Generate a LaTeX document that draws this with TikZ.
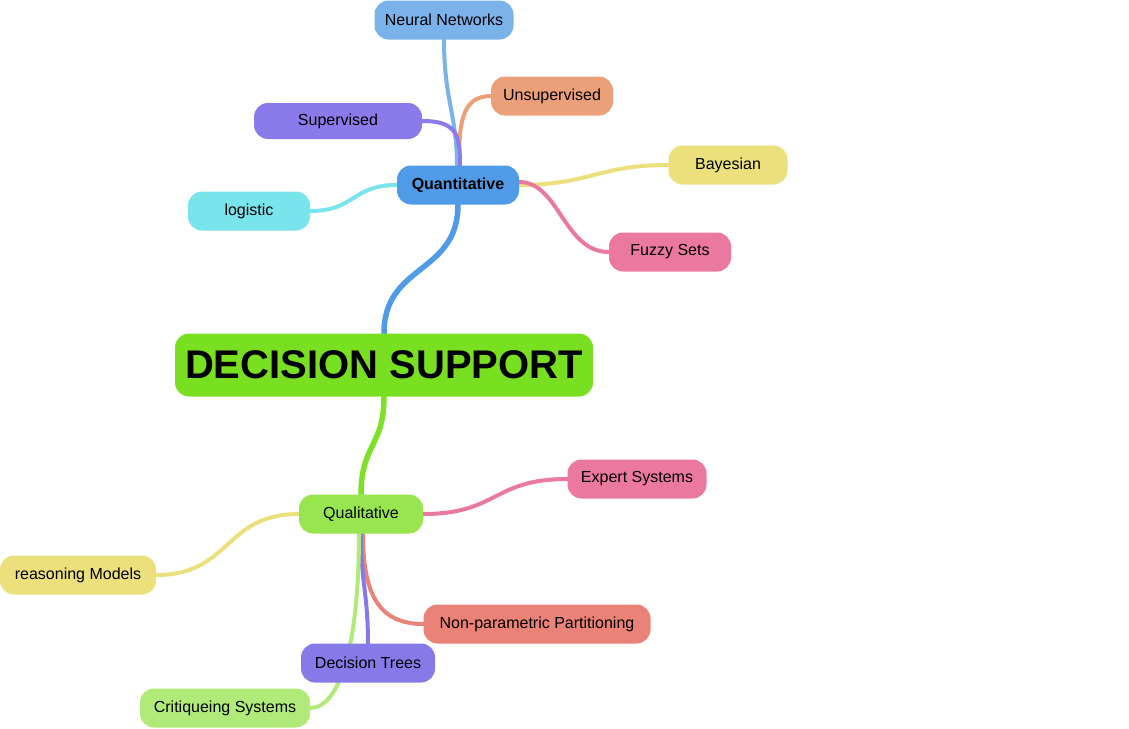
\documentclass[tikz,border=0pt]{standalone}
\usepackage{fontspec}
\setmainfont{Liberation Sans}
\usetikzlibrary{backgrounds}

\definecolor{rootgreen}{HTML}{78E021}
\definecolor{quantblue}{HTML}{4F9BE8}
\definecolor{nnblue}{HTML}{7BB2EA}
\definecolor{unsorange}{HTML}{EBA079}
\definecolor{suppurple}{HTML}{8B7AEA}
\definecolor{bayyellow}{HTML}{EBE07B}
\definecolor{logcyan}{HTML}{79E4EB}
\definecolor{fuzzypink}{HTML}{EB799F}
\definecolor{qualgreen}{HTML}{97E64F}
\definecolor{nonpsalmon}{HTML}{EB8277}
\definecolor{treepurple}{HTML}{8679E8}
\definecolor{critgreen}{HTML}{B0EB79}

\begin{document}
\begin{tikzpicture}[x=1pt, y=-1pt,
  every node/.style={rounded corners=14pt, minimum height=39pt, inner xsep=8pt,
    font=\fontsize{16}{18}\selectfont, text=black},
  link/.style={line width=4pt, line cap=round},
  rootlink/.style={line width=5.5pt, line cap=round}]
  \useasboundingbox (0,0) rectangle (1129,728);

  \node[fill=rootgreen, minimum width=418pt, minimum height=63pt,
        font=\fontsize{40}{44}\selectfont\bfseries] (root) at (384,365) {DECISION SUPPORT};

  \node[fill=quantblue, minimum width=122pt, font=\fontsize{16}{18}\selectfont\bfseries] (quant) at (458,185) {Quantitative};
  \node[fill=nnblue, minimum width=139pt]     (neural)   at (444,20)  {Neural Networks};
  \node[fill=unsorange, minimum width=122pt]  (unsup)    at (552,96)  {Unsupervised};
  \node[fill=suppurple, minimum width=168pt, minimum height=36pt] (sup) at (338,121) {Supervised};
  \node[fill=bayyellow, minimum width=119pt]  (bayes)    at (728,165) {Bayesian};
  \node[fill=logcyan, minimum width=122pt]    (logistic) at (249,211) {logistic};
  \node[fill=fuzzypink, minimum width=122pt]  (fuzzy)    at (670,252) {Fuzzy Sets};

  \node[fill=qualgreen, minimum width=124pt]  (qual)     at (361,514) {Qualitative};
  \node[fill=fuzzypink, minimum width=139pt]  (expert)   at (637,479) {Expert Systems};
  \node[fill=bayyellow, minimum width=156pt]  (reason)   at (78,575)  {reasoning Models};
  \node[fill=nonpsalmon, minimum width=227pt] (nonpar)   at (537,624) {Non-parametric Partitioning};
  \node[fill=treepurple, minimum width=134pt] (trees)    at (368,663) {Decision Trees};
  \node[fill=critgreen, minimum width=170pt]  (crit)     at (225,708) {Critiqueing Systems};

  \begin{scope}[on background layer]
    % main branches
    \draw[rootlink, quantblue] (quant.south) .. controls +(0,70) and +(0,-70) .. (root.north);
    \draw[rootlink, rootgreen!85!qualgreen] (root.south) .. controls +(0,50) and +(0,-50) .. (qual.north);
    % quantitative
    \draw[link, nnblue] (neural.south) .. controls +(0,60) and +(0,-50) .. ([xshift=-1pt]quant.north);
    \draw[link, unsorange] (unsup.west) .. controls +(-30,0) and +(0,-40) .. ([xshift=1pt]quant.north);
    \draw[link, suppurple] (sup.east) .. controls +(35,0) and +(0,-30) .. ([xshift=2pt]quant.north);
    \draw[link, bayyellow] (bayes.west) .. controls +(-70,0) and +(70,0) .. (quant.east);
    \draw[link, logcyan] (logistic.east) .. controls +(45,0) and +(-45,0) .. (quant.west);
    \draw[link, fuzzypink] (fuzzy.west) .. controls +(-45,0) and +(40,0) .. ([yshift=3pt]quant.east);
    % qualitative
    \draw[link, fuzzypink] (expert.west) .. controls +(-75,0) and +(75,0) .. (qual.east);
    \draw[link, bayyellow] (reason.east) .. controls +(75,0) and +(-75,0) .. (qual.west);
    \draw[link, nonpsalmon] (nonpar.west) .. controls +(-45,0) and +(0,60) .. ([xshift=2pt]qual.south);
    \draw[link, treepurple] (trees.north) .. controls +(0,-50) and +(0,50) .. (qual.south);
    \draw[link, critgreen] (crit.east) .. controls +(30,0) and +(0,110) .. ([xshift=-2pt]qual.south);
  \end{scope}
\end{tikzpicture}
\end{document}
